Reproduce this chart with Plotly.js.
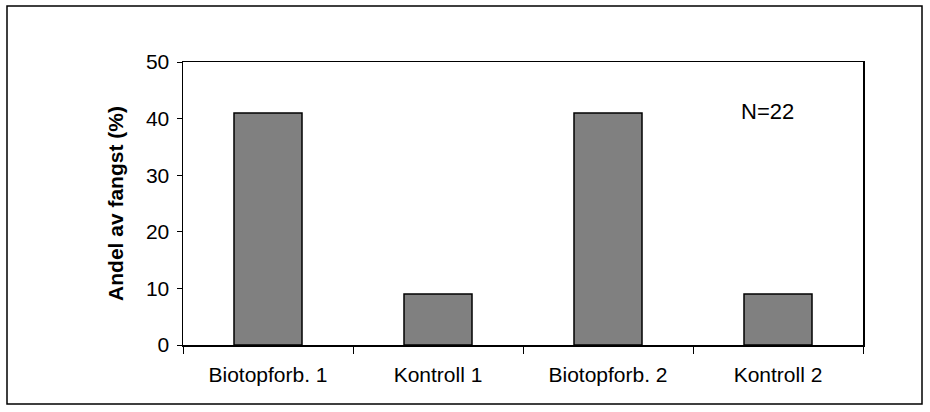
<!DOCTYPE html>
<html>
<head>
<meta charset="utf-8">
<script src="https://cdn.plot.ly/plotly-3.0.1.min.js"></script>
<style>body{margin:0;background:#fff}#chart{width:930px;height:412px}</style>
</head>
<body>
<div id="chart"></div>
<script>
const categories = ["Biotopforb. 1", "Kontroll 1", "Biotopforb. 2", "Kontroll 2"];
const values = [41, 9, 41, 9];
const yTickVals = [0, 10, 20, 30, 40, 50];
const annotationText = "N=22";
const yTitle = "Andel av fangst (%)";

const font = {family: "Liberation Sans, Arial, sans-serif", size: 21, color: "#000"};

const trace = {
  type: "bar",
  x: categories,
  y: values,
  marker: {color: "#808080", line: {color: "#000", width: 1.5}},
  hoverinfo: "skip"
};

const layout = {
  width: 930, height: 412,
  margin: {l: 183, r: 67, t: 62, b: 67},
  paper_bgcolor: "#fff", plot_bgcolor: "#fff",
  font: font,
  showlegend: false,
  bargap: 0.6,
  xaxis: {
    type: "category",
    showline: true, linecolor: "#000", linewidth: 1.5, mirror: true,
    ticks: "outside", tickson: "boundaries", ticklen: 7, tickcolor: "#000", tickwidth: 1,
    showgrid: false, zeroline: false,
    tickfont: font,
    ticklabelstandoff: 10
  },
  yaxis: {
    range: [0, 50],
    tickvals: yTickVals,
    showline: true, linecolor: "#000", linewidth: 1.5, mirror: true,
    ticks: "outside", ticklen: 5, tickcolor: "#000", tickwidth: 1,
    showgrid: false, zeroline: false,
    tickfont: font,
    ticklabelstandoff: 3,
    title: {text: "<b>" + yTitle + "</b>", font: {family: font.family, size: 21, color: "#000"}, standoff: 16}
  },
  annotations: [{
    xref: "paper", yref: "y", x: 0.86, y: 41.2,
    xanchor: "center", yanchor: "middle",
    text: annotationText, showarrow: false,
    font: {family: font.family, size: 22, color: "#000"}
  }],
  shapes: [{
    type: "rect", xref: "paper", yref: "paper",
    x0: (7 - 183) / 680, x1: (922 - 183) / 680,
    y0: (345 - 404) / 283, y1: (345 - 6) / 283,
    line: {color: "#000", width: 1.5}, fillcolor: "rgba(0,0,0,0)", layer: "below"
  }]
};

Plotly.newPlot("chart", [trace], layout, {displayModeBar: false, staticPlot: true});
</script>
</body>
</html>
